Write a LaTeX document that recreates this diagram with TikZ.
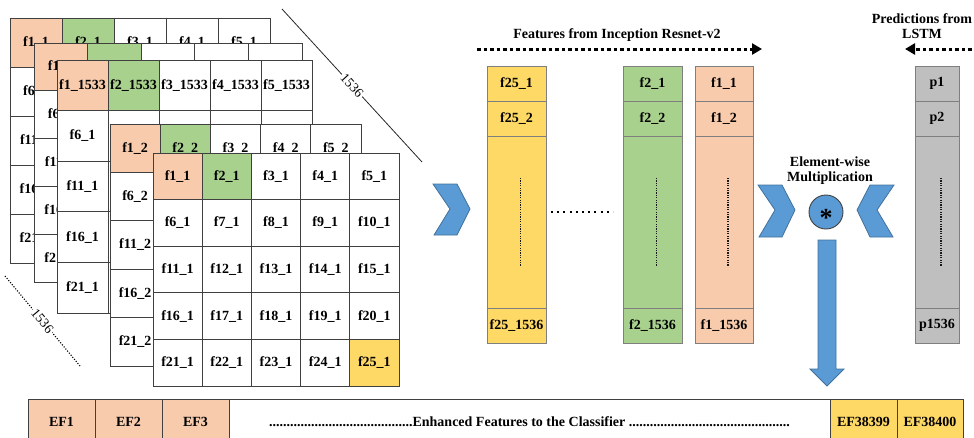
\documentclass[tikz,border=0pt]{standalone}
\usepackage{fontspec}
\setmainfont{Liberation Serif}
\usetikzlibrary{arrows.meta}
\definecolor{peach}{HTML}{F8CBAD}
\definecolor{lgreen}{HTML}{A9D18E}
\definecolor{gold}{HTML}{FFD966}
\definecolor{lgray}{HTML}{BFBFBF}
\definecolor{cblue}{HTML}{5B9BD5}
\definecolor{cblueline}{HTML}{41719C}
\definecolor{gridc}{HTML}{404040}
\definecolor{colc}{HTML}{7F7F7F}
\newcommand\tfnt{\fontsize{14}{16}\selectfont\bfseries}
\newcommand\drawlayer[8]{%
 \foreach \r in {0,...,4}{\foreach \c in {0,...,4}{
  \pgfmathtruncatemacro\n{5*\r+\c+1}
  \def\cc{white}\ifnum\n=1 \def\cc{peach}\fi\ifnum\n=2 \def\cc{lgreen}\fi
  \def\lab{}
  \ifnum#8=1 \def\lab{f\n\_#7}\fi
  \ifnum#8<2 \ifnum\r=0 \def\lab{f\n\_#6}\fi\fi
  \ifnum\c=0 \ifnum\r>0 \def\lab{f\n\_#7}\fi\fi
  \ifnum#8=2 \ifnum\c=0 \def\lab{f\n\_#7}\fi\fi
  \node[gcell, fill=\cc, minimum width=#4pt, minimum height=#5pt] (#1\n) at ({#2+#4*(\c+0.5)},{#3+#5*(\r+0.5)}) {\lab};
 }}%
}
\begin{document}
\begin{tikzpicture}[x=1pt,y=-1pt,
  gcell/.style={draw=gridc, line width=0.9pt, inner sep=0pt, font=\tfnt},
  ccell/.style={draw=colc, line width=0.9pt, inner sep=0pt, font=\tfnt},
  bcell/.style={draw=gridc, line width=1pt, inner sep=0pt, font=\tfnt, minimum height=46pt},
  vdots/.style={line width=1.3pt, dash pattern=on 1.2pt off 1.2pt, draw=black!90},
  bigdots/.style={line width=3pt, dash pattern=on 3.5pt off 3pt, -{Triangle[length=10pt,width=11pt]}},
  chev/.style={fill=cblue, draw=cblueline, line width=0.8pt, line join=miter},
  lbl/.style={font=\tfnt, inner sep=0pt},
  numlbl/.style={font=\fontsize{13.5}{15}\selectfont, fill=white, inner sep=1.5pt, sloped}
]
\useasboundingbox (0,0) rectangle (974,437);
\clip (0,0) rectangle (974,437);

% stacked grids
\drawlayer{A}{10}{18}{52}{49}{1}{1}{0}
\drawlayer{B}{34}{43}{53.6}{47.8}{1}{1}{2}
\drawlayer{C}{57}{60}{51}{50.6}{1533}{1}{0}
\drawlayer{D}{110}{124}{50.2}{48.4}{2}{2}{0}
\drawlayer{E}{153}{153}{49.2}{46.6}{1}{1}{1}
\node[gcell, fill=gold, minimum width=49.2pt, minimum height=46.6pt] (E25b) at (E25) {f25\_1};

% diagonal size marks
\coordinate (d1s) at (282,9); \coordinate (d1e) at (422,162);
\draw[line width=0.8pt, draw=black!85] (d1s) -- node[numlbl] {1536} (d1e);
\coordinate (d2s) at (5,276); \coordinate (d2e) at (80,366);
\draw[line width=1.1pt, dash pattern=on 1.1pt off 1.6pt] (d2s) -- node[numlbl] {1536} (d2e);

% left chevron
\draw[chev] (433,184) -- (457,184) -- (470,209) -- (457,235) -- (434,235) -- (450,209) -- cycle;

% feature columns
\node[ccell, fill=gold, minimum width=59pt, minimum height=35pt] (Y1) at (516.5,83.5) {f25\_1};
\node[ccell, fill=gold, minimum width=59pt, minimum height=35pt] (Y2) at (516.5,118.5) {f25\_2};
\node[ccell, fill=gold, minimum width=59pt, minimum height=172pt] (Y3) at (516.5,222) {};
\node[ccell, fill=gold, minimum width=59pt, minimum height=35pt] (Y4) at (516.5,325.5) {f25\_1536};
\node[ccell, fill=lgreen, minimum width=59pt, minimum height=35pt] (G1) at (652.5,83.5) {f2\_1};
\node[ccell, fill=lgreen, minimum width=59pt, minimum height=35pt] (G2) at (652.5,118.5) {f2\_2};
\node[ccell, fill=lgreen, minimum width=59pt, minimum height=172pt] (G3) at (652.5,222) {};
\node[ccell, fill=lgreen, minimum width=59pt, minimum height=35pt] (G4) at (652.5,325.5) {f2\_1536};
\node[ccell, fill=peach, minimum width=58pt, minimum height=35pt] (P1) at (724,83.5) {f1\_1};
\node[ccell, fill=peach, minimum width=58pt, minimum height=35pt] (P2) at (724,118.5) {f1\_2};
\node[ccell, fill=peach, minimum width=58pt, minimum height=172pt] (P3) at (724,222) {};
\node[ccell, fill=peach, minimum width=58pt, minimum height=35pt] (P4) at (724,325.5) {f1\_1536};
\node[ccell, fill=lgray, minimum width=44pt, minimum height=35pt] (L1) at (937,83.5) {p1};
\node[ccell, fill=lgray, minimum width=44pt, minimum height=35pt] (L2) at (937,118.5) {p2};
\node[ccell, fill=lgray, minimum width=44pt, minimum height=172pt] (L3) at (937,222) {};
\node[ccell, fill=lgray, minimum width=44pt, minimum height=35pt] (L4) at (937,325.5) {p1536};
\foreach \k in {Y3,G3,P3,L3}{
  \draw[vdots] ([xshift=4pt,yshift=44pt]\k.center) -- ([xshift=4pt,yshift=-44pt]\k.center);
}
\coordinate (h1) at (551,212); \coordinate (h2) at (613,212);
\draw[line width=2pt, dash pattern=on 2pt off 4.2pt] (h1) -- (h2);

% top arrows and titles
\coordinate (fa1) at (477,49); \coordinate (fa2) at (762,49);
\draw[bigdots] (fa1) -- (fa2);
\node[lbl] (ftitle) at (617,35) {Features from Inception Resnet-v2};
\coordinate (pa1) at (978,49); \coordinate (pa2) at (905,49);
\draw[bigdots] (pa1) -- (pa2);
\node[lbl, align=center] (ptitle) at (922,26.5) {Predictions from\\[-1pt]LSTM};

% element-wise multiplication
\node[lbl, align=center] (mtitle) at (830,171) {Element-wise\\[-1pt]Multiplication};
\draw[chev] (758,185) -- (782,185) -- (795,210) -- (782,237) -- (759,237) -- (775,210) -- cycle;
\draw[chev] (894,185) -- (870,185) -- (857,210) -- (870,237) -- (893,237) -- (877,210) -- cycle;
\node[circle, fill=cblue, draw=gridc, line width=0.9pt, minimum size=34pt, inner sep=0pt] (mul) at (826,212) {};
\node[font=\fontsize{26}{26}\selectfont\bfseries, inner sep=0pt] (ast) at ([yshift=-6pt]mul.center) {*};

% down block arrow
\coordinate (arrtop) at (827,240); \coordinate (arrtip) at (827,386);
\draw[chev] ([xshift=-9pt]arrtop) -- ([xshift=9pt]arrtop) -- ([xshift=9pt,yshift=17pt]arrtip) -- ([xshift=17pt,yshift=17pt]arrtip) -- (arrtip) -- ([xshift=-17pt,yshift=17pt]arrtip) -- ([xshift=-9pt,yshift=17pt]arrtip) -- cycle;

% bottom bar
\node[bcell, fill=peach, minimum width=67pt] (EF1) at (61.5,422) {EF1};
\node[bcell, fill=peach, minimum width=67pt] (EF2) at (128.5,422) {EF2};
\node[bcell, fill=peach, minimum width=67pt] (EF3) at (195.5,422) {EF3};
\node[bcell, fill=white, minimum width=601pt] (EFmid) at (529.5,422) {.........................................Enhanced Features to the Classifier ..............................................};
\node[bcell, fill=gold, minimum width=67pt] (EFa) at (863.5,422) {EF38399};
\node[bcell, fill=gold, minimum width=66pt] (EFb) at (930,422) {EF38400};
\end{tikzpicture}
\end{document}
